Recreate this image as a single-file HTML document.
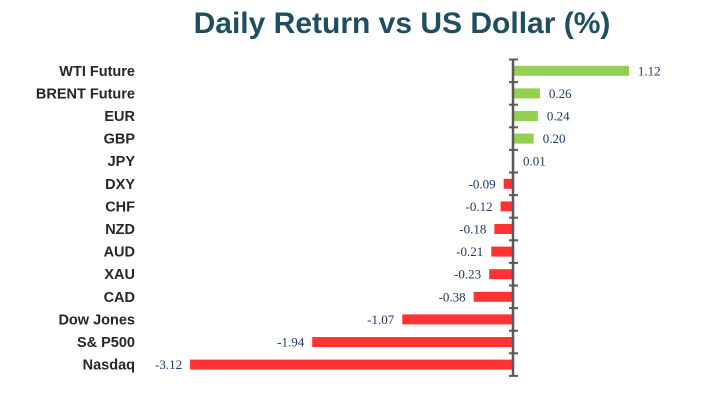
<!DOCTYPE html>
<html><head><meta charset="utf-8"><style>
body{margin:0;background:#fff;}
svg{display:block;}
</style></head><body>
<svg width="701" height="403">
<text x="402" y="33" text-anchor="middle" font-family="Liberation Sans, sans-serif" font-weight="bold" font-size="30" fill="#1f4e5f">Daily Return vs US Dollar (%)</text>
<g id="plot"></g>
</svg>
<script>
const categories=["WTI Future","BRENT Future","EUR","GBP","JPY","DXY","CHF","NZD","AUD","XAU","CAD","Dow Jones","S& P500","Nasdaq"];
const values=[1.12,0.26,0.24,0.20,0.01,-0.09,-0.12,-0.18,-0.21,-0.23,-0.38,-1.07,-1.94,-3.12];
const labels=["1.12","0.26","0.24","0.20","0.01","-0.09","-0.12","-0.18","-0.21","-0.23","-0.38","-1.07","-1.94","-3.12"];
const NS="http://www.w3.org/2000/svg";
const g=document.getElementById('plot');
const x0=513,ppu=103.5,plotTop=59.5,band=22.6,bh=10;
const xs=v=>x0+v*ppu;
const yc=i=>plotTop+band*(i+0.5);
function mk(t,a){const e=document.createElementNS(NS,t);for(const k in a)e.setAttribute(k,a[k]);g.appendChild(e);return e;}
categories.forEach((c,i)=>{
  const v=values[i],x1=xs(v);
  const r=mk('rect',{x:Math.min(x0,x1),y:yc(i)-bh/2,width:Math.max(Math.abs(x1-x0),0.5),height:bh,fill:v>=0?'#92d050':'#ff3333'});
  
  
  const t=mk('text',{x:135,y:yc(i)+5,'text-anchor':'end','font-family':'Liberation Sans, sans-serif','font-weight':'bold','font-size':'14.5',fill:'#262626'});
  t.textContent=c;
  
  
  const vl=mk('text',{x:v>=0?x1+9:x1-8,y:yc(i)+4.5,'text-anchor':v>=0?'start':'end','font-family':'Liberation Serif, serif','font-size':'13',fill:'#1f3864'});
  vl.textContent=labels[i];
  
  
});
const ax=mk('line',{x1:x0,x2:x0,y1:plotTop,y2:plotTop+band*categories.length,stroke:'#595959','stroke-width':2.5});


for(let i=0;i<=categories.length;i++){
  const tk=mk('line',{x1:x0-4,x2:x0+5,y1:plotTop+band*i,y2:plotTop+band*i,stroke:'#595959','stroke-width':2});
  
  
}
</script>
</body></html>
